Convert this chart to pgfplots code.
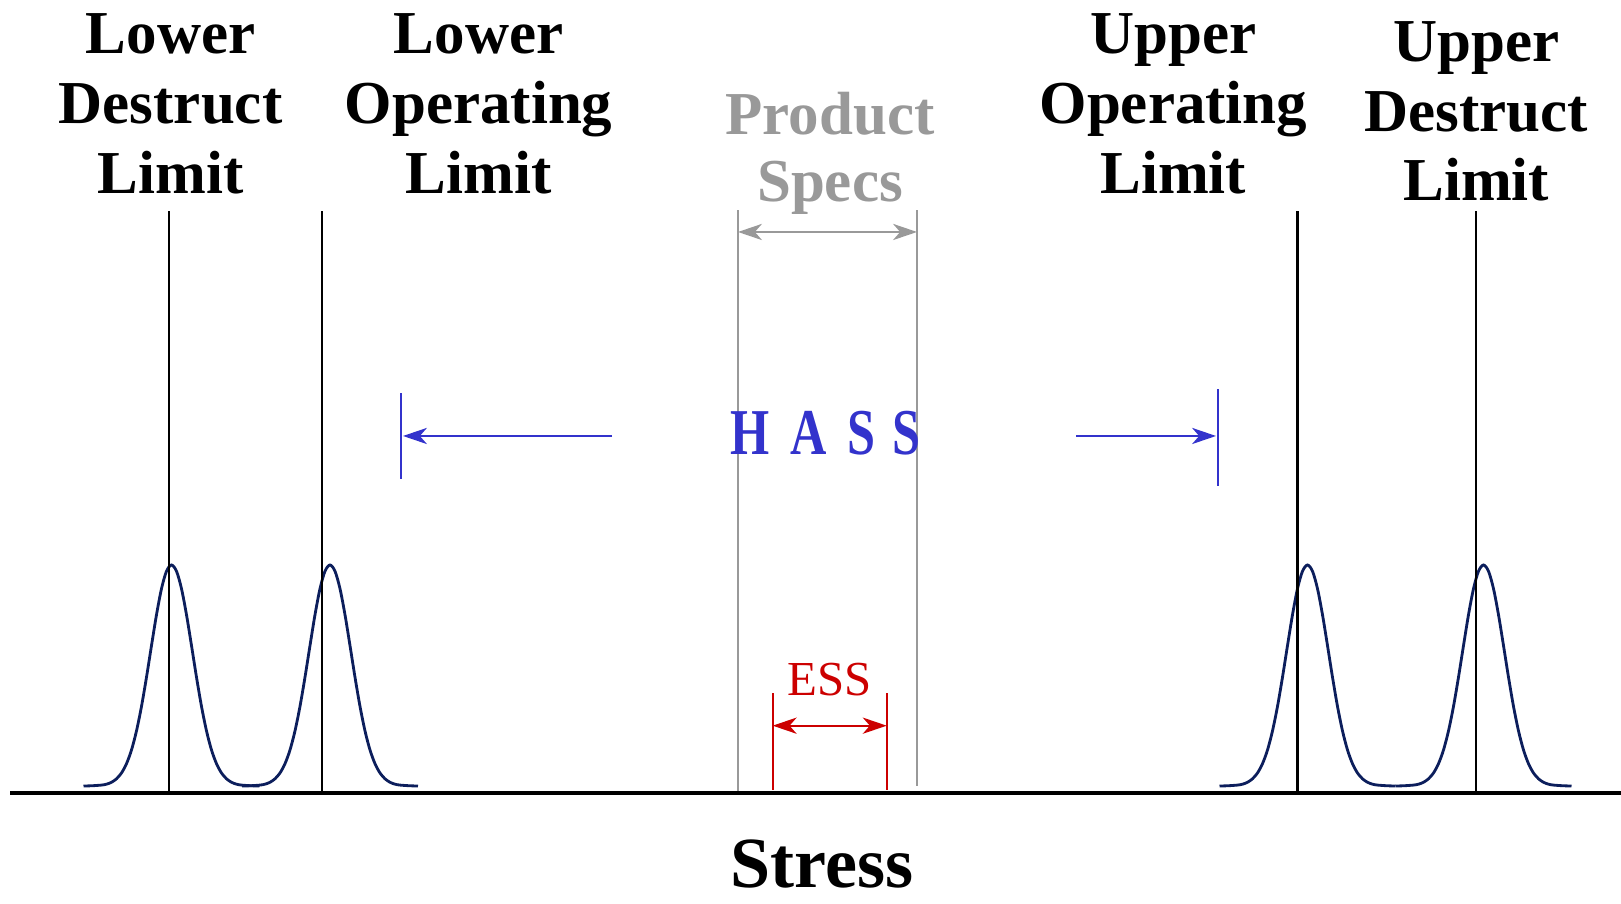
\documentclass[border=0pt]{standalone}
\usepackage{pgfplots}
\pgfplotsset{compat=1.18}
\usepackage{pgfplotstable}
\usepackage{fontspec}
\setmainfont{Liberation Serif}
\usetikzlibrary{arrows.meta}
\definecolor{navy}{RGB}{12,30,92}
\definecolor{hassblue}{RGB}{51,51,204}
\definecolor{essred}{RGB}{204,0,0}
\definecolor{specgray}{RGB}{153,153,153}

\pgfplotstableread{
dx y
-88 118
-80 118.2
-70 118.9
-65 119.8
-60 121.7
-55 125.2
-50 131
-45 140.3
-40 154
-35 173.1
-30 197.6
-25 226.8
-20 258.4
-15 289.2
-10 315.3
-5 332.8
0 339
5 332.8
10 315.3
15 289.2
20 258.4
25 226.8
30 197.6
35 173.1
40 154
45 140.3
50 131
55 125.2
60 121.7
65 119.8
70 118.9
80 118.2
88 118
}\bell

\tikzset{
  lab/.style={anchor=base,inner sep=0pt,font=\fontsize{17.35}{20}\selectfont\bfseries},
  hass/.style={anchor=base,inner sep=0pt,text=hassblue,xscale=0.8,yscale=1.04,font=\fontsize{17.9}{20}\selectfont\bfseries},
  tip/.style={-{Stealth[length=6.8pt,width=4.6pt,inset=2pt]}},
  tips/.style={{Stealth[length=6.8pt,width=4.6pt,inset=2pt]}-{Stealth[length=6.8pt,width=4.6pt,inset=2pt]}},
}

\begin{document}
\begin{tikzpicture}
\begin{axis}[width=16.21cm,height=9.04cm,scale only axis,
  xmin=0,xmax=1621,ymin=0,ymax=904,hide axis,clip=false]
\addplot[navy,line width=0.8pt,smooth] table[x expr=\thisrow{dx}+171.5,y=y]{\bell};
\addplot[navy,line width=0.8pt,smooth] table[x expr=\thisrow{dx}+330,y=y]{\bell};
\addplot[navy,line width=0.8pt,smooth] table[x expr=\thisrow{dx}+1307.5,y=y]{\bell};
\addplot[navy,line width=0.8pt,smooth] table[x expr=\thisrow{dx}+1483.5,y=y]{\bell};

% black limit lines
\addplot[black,line width=0.65pt] coordinates {(169,111) (169,693)};
\addplot[black,line width=0.65pt] coordinates {(321.7,111) (321.7,693)};
\addplot[black,line width=0.65pt] coordinates {(1297.5,111) (1297.5,693)};
\addplot[black,line width=0.65pt] coordinates {(1476.3,111) (1476.3,693)};

% product spec lines
\addplot[specgray,line width=0.65pt] coordinates {(738,111) (738,694)};
\addplot[specgray,line width=0.65pt] coordinates {(917,118) (917,694)};
\draw[specgray,line width=0.6pt,tips] (axis cs:738,672) -- (axis cs:917,672);

% ESS
\addplot[essred,line width=0.65pt] coordinates {(772.7,114) (772.7,211)};
\addplot[essred,line width=0.65pt] coordinates {(886.7,114) (886.7,211)};
\draw[essred,line width=0.6pt,tips] (axis cs:772.7,178.3) -- (axis cs:886.7,178.3);
\node[anchor=base,inner sep=0pt,text=essred,font=\fontsize{13.9}{16}\selectfont] at (axis cs:830,208.3) {ESS};

% HASS
\addplot[hassblue,line width=0.65pt] coordinates {(401,425) (401,511)};
\addplot[hassblue,line width=0.65pt] coordinates {(1218,418) (1218,515)};
\draw[hassblue,line width=0.6pt,tip] (axis cs:612,468) -- (axis cs:403,468);
\draw[hassblue,line width=0.6pt,tip] (axis cs:1076,468) -- (axis cs:1216,468);
\node[hass] at (axis cs:750,449) {H};
\node[hass] at (axis cs:809,449) {A};
\node[hass] at (axis cs:861,449) {S};
\node[hass] at (axis cs:906,449) {S};

% baseline
\draw[black,line width=1.4pt] (axis cs:10,111) -- (axis cs:1621,111);

% labels
\node[lab] at (axis cs:170.6,850) {Lower};
\node[lab] at (axis cs:170.6,780) {Destruct};
\node[lab] at (axis cs:170.6,710.7) {Limit};
\node[lab] at (axis cs:478.6,850) {Lower};
\node[lab] at (axis cs:478.6,780) {Operating};
\node[lab] at (axis cs:478.6,710.7) {Limit};
\node[lab,text=specgray] at (axis cs:830,769.6) {Product};
\node[lab,text=specgray] at (axis cs:830,702.4) {Specs};
\node[lab] at (axis cs:1173.4,850) {Upper};
\node[lab] at (axis cs:1173.4,780) {Operating};
\node[lab] at (axis cs:1173.4,710.7) {Limit};
\node[lab] at (axis cs:1476.3,842) {Upper};
\node[lab] at (axis cs:1476.3,772.7) {Destruct};
\node[lab] at (axis cs:1476.3,703.4) {Limit};

\node[anchor=base,inner sep=0pt,font=\fontsize{20.5}{24}\selectfont\bfseries] at (axis cs:822,16) {Stress};
\end{axis}
\pgfresetboundingbox
\useasboundingbox (current axis.south west) rectangle (current axis.north east);
\end{tikzpicture}
\end{document}
